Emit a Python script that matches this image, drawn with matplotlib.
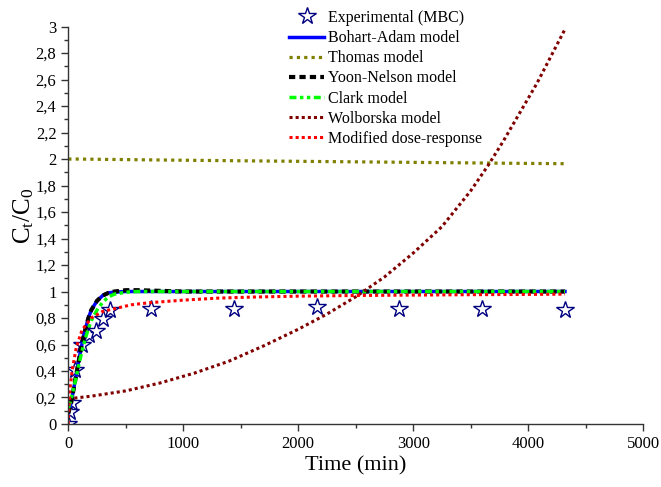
import numpy as np
import matplotlib
matplotlib.use("Agg")
import matplotlib.pyplot as plt
from matplotlib.ticker import MultipleLocator, FuncFormatter

plt.rcParams['font.family'] = ['Liberation Serif', 'DejaVu Serif']

# experimental breakthrough points
t_exp = [0, 15, 30, 60, 120, 180, 240, 300, 360, 720, 1440, 2160, 2880, 3600, 4320]
c_exp = [0.0, 0.09, 0.16, 0.41, 0.60, 0.67, 0.70, 0.79, 0.86, 0.87, 0.87, 0.88, 0.87, 0.87, 0.86]

# model curves (time in min)
t_fit = [0, 25, 50, 75, 100, 125, 150, 175, 200, 250, 300, 350, 400, 500, 600, 800,
         1000, 1500, 2000, 2500, 3000, 3500, 4000, 4320]
c_bohart = [0.08, 0.16, 0.28, 0.40, 0.52, 0.63, 0.72, 0.80, 0.86, 0.93, 0.97, 0.99, 0.995, 1.0, 1.0, 1.0,
            1.0, 1.0, 1.0, 1.0, 1.0, 1.0, 1.0, 1.0]
c_thomas = [2.0, 2.0, 2.0, 2.0, 2.0, 2.0, 1.999, 1.999, 1.999, 1.998, 1.998, 1.997, 1.997, 1.996, 1.995, 1.993,
            1.991, 1.987, 1.983, 1.979, 1.975, 1.971, 1.967, 1.965]
c_yoon = [0.08, 0.16, 0.28, 0.40, 0.52, 0.63, 0.72, 0.80, 0.86, 0.93, 0.97, 0.99, 1.0, 1.01, 1.01, 1.005,
          1.0, 1.0, 1.0, 1.0, 1.0, 1.0, 1.0, 1.0]
c_clark = [0.12, 0.19, 0.28, 0.38, 0.48, 0.57, 0.65, 0.72, 0.78, 0.86, 0.92, 0.96, 0.98, 0.995, 1.0, 1.0,
           1.0, 1.0, 1.0, 1.0, 1.0, 1.0, 1.0, 1.0]

t_wol = [0, 200, 500, 800, 1100, 1400, 1700, 2000, 2250, 2500, 2750, 3000, 3250, 3500, 3650, 3780, 4075, 4320]
c_wol = [0.19, 0.21, 0.25, 0.31, 0.385, 0.475, 0.59, 0.715, 0.83, 0.96, 1.11, 1.29, 1.49, 1.76, 1.95, 2.13, 2.57, 2.98]

t_mdr = [0, 5, 15, 35, 70, 120, 200, 300, 400, 550, 700, 1000, 1300, 1600, 2000, 2500, 3000, 3500, 4000, 4320]
c_mdr = [0.0, 0.12, 0.27, 0.41, 0.58, 0.71, 0.80, 0.85, 0.87, 0.90, 0.915, 0.935, 0.95, 0.958, 0.965, 0.97,
         0.973, 0.976, 0.978, 0.98]

fig = plt.figure(figsize=(6.61, 4.87), dpi=100)
ax = fig.add_axes([0.1033, 0.1294, 0.8697, 0.8160])

ax.plot(t_exp, c_exp, linestyle='none', marker='*', markersize=13, markerfacecolor='white',
        markeredgecolor='#000080', markeredgewidth=1.0, label='Experimental (MBC)')
ax.plot(t_fit, c_bohart, color='#0000FF', lw=2.5, label='Bohart-Adam model')
ax.plot(t_fit, c_thomas, color='#808000', lw=2.3, linestyle=(0, (1, 1.3)), label='Thomas model')
ax.plot(t_fit, c_yoon, color='black', lw=3, linestyle=(0, (1.5, 1)), label='Yoon-Nelson model')
ax.plot(t_fit, c_clark, color='#00FF00', lw=2.5, linestyle=(0, (2, 1, 1, 1, 1, 1)), label='Clark model')
ax.plot(t_wol, c_wol, color='#800000', lw=2.2, linestyle=(0, (1, 1)), label='Wolborska model')
ax.plot(t_mdr, c_mdr, color='#FF0000', lw=2.2, linestyle=(0, (1, 1)), label='Modified dose-response')

ax.set_xlim(0, 5000)
ax.set_ylim(0, 3)
ax.xaxis.set_major_locator(MultipleLocator(1000))
ax.xaxis.set_minor_locator(MultipleLocator(500))
ax.yaxis.set_major_locator(MultipleLocator(0.2))
ax.yaxis.set_minor_locator(MultipleLocator(0.1))
ax.yaxis.set_major_formatter(FuncFormatter(lambda v, p: ('%g' % round(v, 1)).replace('.', ',')))

for s in ['top', 'right']:
    ax.spines[s].set_visible(False)
for s in ['left', 'bottom']:
    ax.spines[s].set_color('#333333')
    ax.spines[s].set_linewidth(1.0)
ax.tick_params(which='major', direction='out', length=5, width=1, labelsize=12, colors='#333333',
               labelcolor='black')
ax.tick_params(which='minor', direction='out', length=3, width=1, colors='#333333')

ax.set_xlabel('Time (min)', fontsize=16, labelpad=3)
ax.set_ylabel(r'$\mathregular{C_t/C_0}$', fontsize=18)
ax.yaxis.set_label_coords(-0.056, 0.523)

fig.legend(loc='upper left', bbox_to_anchor=(289 / 661, 1 - 10 / 487), frameon=False,
           fontsize=11.5, handlelength=2.2, handletextpad=0.25, labelspacing=0.26,
           borderpad=0, borderaxespad=0, numpoints=1)

fig.savefig('out.png', dpi=100)
